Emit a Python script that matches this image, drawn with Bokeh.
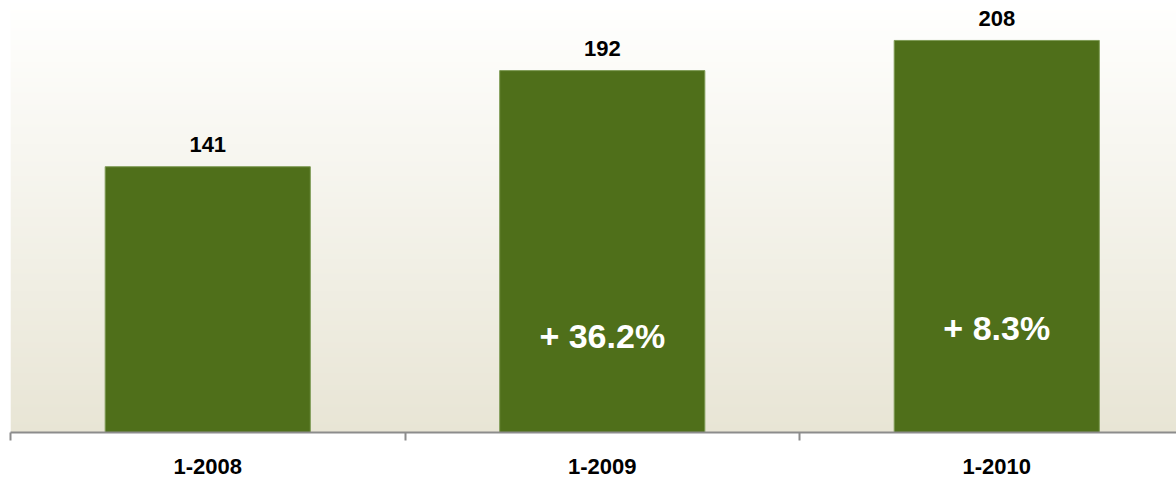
import numpy as np
from bokeh.plotting import figure
from bokeh.models import ColumnDataSource, FixedTicker, LinearAxis, Range1d
from bokeh.core.properties import value
from bokeh.embed import file_html
from bokeh.resources import INLINE

# ---- data ----
categories = ["1-2008", "1-2009", "1-2010"]
values = [141, 192, 208]
growth_labels = ["", "+ 36.2%", "+ 8.3%"]

# ---- layout / style ----
growth_offsets = [0, -97, -105]   # px above the baseline
x_pos = [i + 0.5 for i in range(len(categories))]
X_END = 2.9556
Y_END = 227.6
FONT = "Liberation Sans"
BAR = "#4F6F1A"
AXIS_GREY = "#8C8C8C"

p = figure(width=1176, height=478,
           x_range=Range1d(0, X_END), y_range=Range1d(0, Y_END),
           output_backend="svg", toolbar_location=None,
           x_axis_location=None, y_axis_location=None,
           min_border=0, min_border_left=10, min_border_right=0,
           min_border_top=3, min_border_bottom=46)
p.outline_line_color = None
p.background_fill_color = "white"
p.border_fill_color = "white"
p.xgrid.visible = False
p.ygrid.visible = False

# gradient background (white at top -> beige at bottom)
N = 256
top = np.array([255, 255, 254], dtype=float)
bot = np.array([232, 229, 213], dtype=float)
t = np.linspace(0, 1, N)[:, None]          # row 0 = bottom
cols = bot * (1 - t) + top * t
img = np.empty((N, 1), dtype=np.uint32)
view = img.view(dtype=np.uint8).reshape((N, 1, 4))
view[:, 0, 0] = cols[:, 0].round()
view[:, 0, 1] = cols[:, 1].round()
view[:, 0, 2] = cols[:, 2].round()
view[:, 0, 3] = 255
p.image_rgba(image=[img], x=0, y=0, dw=X_END, dh=Y_END)

src = ColumnDataSource(dict(x=x_pos, top=values,
                            vlabel=[str(v) for v in values],
                            glabel=growth_labels,
                            goff=growth_offsets,
                            base=[0] * len(values)))

p.vbar(x="x", top="top", bottom=0, width=0.52, source=src,
       fill_color=BAR, line_color="#7E9B55", line_width=1)

p.text(x="x", y="top", text="vlabel", source=src,
       text_font=value(FONT), text_font_style="bold", text_font_size="22px",
       text_color="black", text_align="center", text_baseline="middle",
       y_offset=-22)

p.text(x="x", y="base", text="glabel", source=src, y_offset="goff",
       text_font=value(FONT), text_font_style="bold", text_font_size="34px",
       text_color="white", text_align="center", text_baseline="middle")

ax = LinearAxis(ticker=FixedTicker(ticks=x_pos, minor_ticks=list(range(len(categories) + 1))),
                major_label_overrides={x: c for x, c in zip(x_pos, categories)})
ax.axis_line_color = AXIS_GREY
ax.axis_line_width = 2
ax.major_tick_out = 0
ax.major_tick_in = 0
ax.major_tick_line_color = None
ax.minor_tick_out = 8
ax.minor_tick_in = 0
ax.minor_tick_line_color = AXIS_GREY
ax.minor_tick_line_width = 2
ax.major_label_standoff = 18
ax.major_label_text_font = FONT
ax.major_label_text_font_style = "bold"
ax.major_label_text_font_size = "22px"
ax.major_label_text_color = "black"
p.add_layout(ax, "below")

open("out.html", "w").write(file_html(p, INLINE))
